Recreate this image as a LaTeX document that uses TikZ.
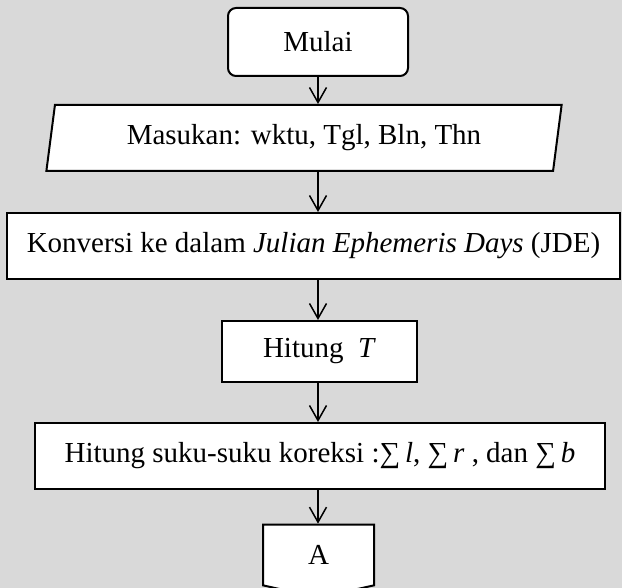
\documentclass[tikz,border=0pt]{standalone}
\usepackage{fontspec}
\setmainfont{Liberation Serif}
\usetikzlibrary{shapes.geometric,shapes.symbols,arrows.meta}
\definecolor{bggray}{HTML}{D9D9D9}

\begin{document}
\begin{tikzpicture}[x=0.5pt,y=-0.5pt,font=\fontsize{14.5}{17}\selectfont]

        \fill[bggray] (0,0) rectangle (622,588);
        \useasboundingbox (0,0) rectangle (622,588);

        \begin{scope}[every node/.style={draw,fill=white,line width=1pt,inner sep=0pt}]
          \node[rounded corners=4pt,minimum width=90pt,minimum height=34pt] (0) at (318,42) {Mulai};
          \node[trapezium,trapezium left angle=77,trapezium right angle=103,
                trapezium stretches=true,minimum width=258pt,minimum height=33pt] (1) at (304,138) {Masukan: wktu, Tgl, Bln, Thn};
          \node[minimum width=306.5pt,minimum height=33pt] (2) at (313.5,246) {Konversi ke dalam \textit{Julian Ephemeris Days} (JDE)};
          \node[minimum width=97.5pt,minimum height=30.5pt] (3) at (319.5,351.5) {Hitung\enspace\textit{T}};
          \node[minimum width=285pt,minimum height=33pt] (4) at (320,456) {Hitung suku-suku koreksi :∑\,\textit{l}, ∑\,\textit{r} , dan ∑\,\textit{b}};
          \node[signal,signal to=south,signal pointer angle=155,minimum width=55.5pt,minimum height=31.5pt] (5) at (318.5,555) {A};
        \end{scope}

        \begin{scope}[every edge/.style={draw,line width=0.75pt,-{Straight Barb[length=7.5pt,width=8.5pt]}}]
          \path (0.south) edge (0.south |- 1.north);
          \path (0.south |- 1.south) edge (0.south |- 2.north);
          \path (0.south |- 2.south) edge (0.south |- 3.north);
          \path (0.south |- 3.south) edge (0.south |- 4.north);
          \path (0.south |- 4.south) edge (0.south |- 5.north);
        \end{scope}

      \end{tikzpicture}
\end{document}
